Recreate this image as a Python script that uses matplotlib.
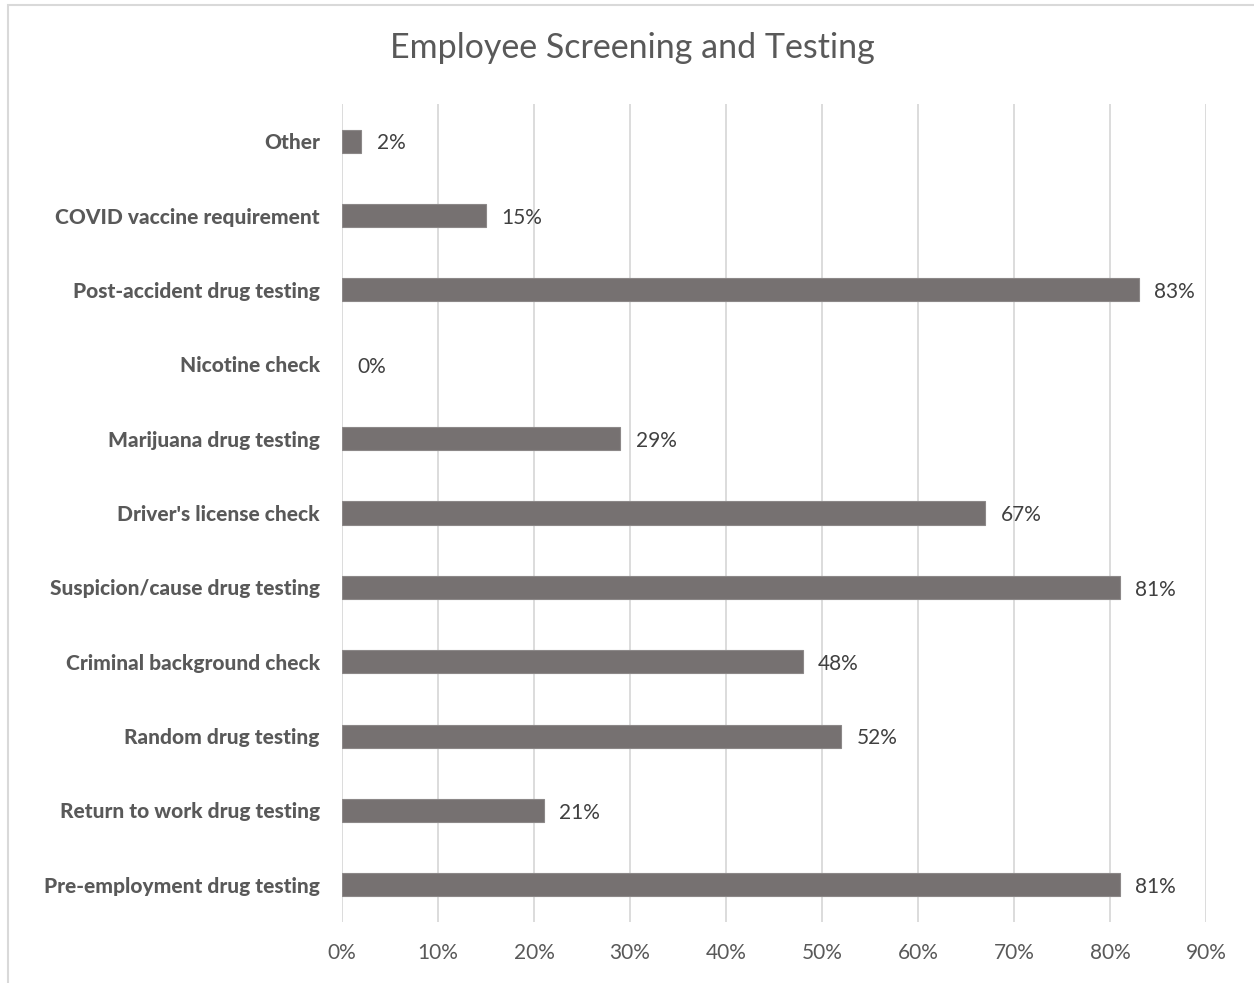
import matplotlib
matplotlib.use("Agg")
import matplotlib.pyplot as plt
from matplotlib.patches import Rectangle

# datos del grafico (de abajo hacia arriba)
categorias = ["Pre-employment drug testing", "Return to work drug testing",
              "Random drug testing", "Criminal background check",
              "Suspicion/cause drug testing", "Driver's license check",
              "Marijuana drug testing", "Nicotine check",
              "Post-accident drug testing", "COVID vaccine requirement", "Other"]
valores = [81, 21, 52, 48, 81, 67, 29, 0, 83, 15, 2]
ticks = [0, 10, 20, 30, 40, 50, 60, 70, 80, 90]
tick_labels = [f"{t}%" for t in ticks]

plt.rcParams['font.family'] = ['Lato', 'DejaVu Sans']

fig = plt.figure(figsize=(12.54, 9.83), dpi=100)
ax = fig.add_axes([342/1254, 1 - 922/983, 864/1254, 818/983])

# borde del grafico
fig.patches.append(Rectangle((8/1254, -0.01), 1.02, 1 - 5/983 + 0.01, transform=fig.transFigure,
                             fill=False, edgecolor="#d9d9d9", linewidth=1.5))

y = list(range(len(categorias)))
ax.barh(y, valores, height=0.31, color="#767171", edgecolor="#8c8888",
        linewidth=[0.8 if v > 0 else 0 for v in valores], zorder=3)
for yi, v in zip(y, valores):
    ax.text(v + 1.6, yi - 0.03, f"{v}%", va="center", ha="left", fontsize=15, color="#404040")

ax.set_xlim(0, 90)
ax.set_ylim(-0.5, len(categorias) - 0.5)
ax.set_xticks(ticks)
ax.set_xticklabels(tick_labels, fontsize=15, color="#595959")
ax.set_yticks(y)
ax.set_yticklabels(categorias, fontsize=15, fontweight="black", color="#595959")
ax.tick_params(axis="both", length=0)
ax.tick_params(axis="y", pad=16)
ax.tick_params(axis="x", pad=15)
ax.grid(axis="x", color="#d9d9d9", linewidth=1.3, zorder=0)
for s in ax.spines.values():
    s.set_visible(False)

fig.text(632/1254, 1 - 48/983, "Employee Screening and Testing", ha="center", va="center",
         fontsize=24.5, color="#595959")

fig.savefig("out.png", dpi=100)
